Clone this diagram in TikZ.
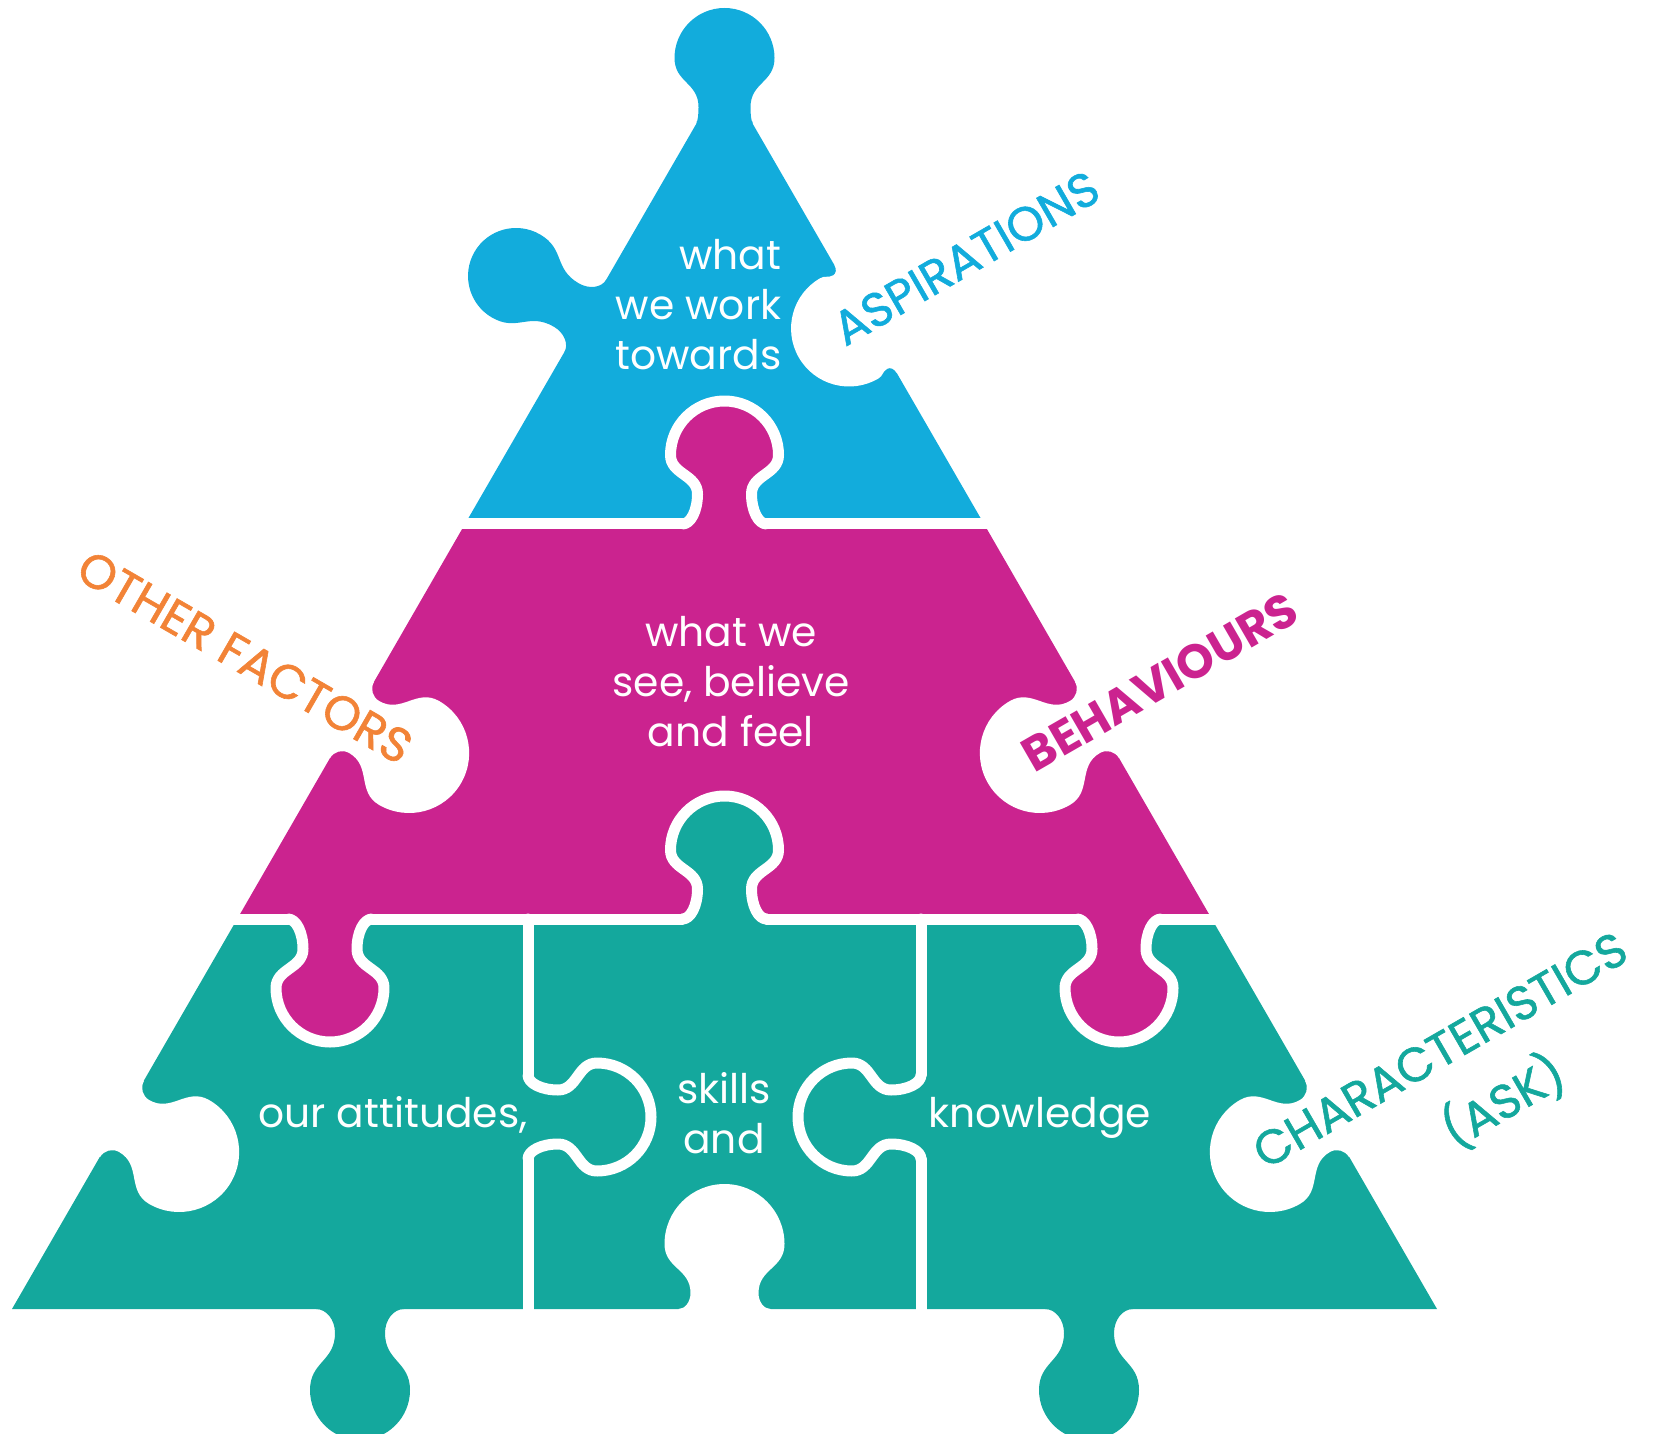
\documentclass[tikz,border=0pt]{standalone}
\usepackage{fontspec}
\setmainfont{Poppins}
\newfontfamily\tagfont{Poppins}[FakeBold=1.2]
\usepackage{xcolor}
\usepackage{tikz}

\definecolor{aspblue}{RGB}{18,172,220}
\definecolor{behmagenta}{RGB}{203,35,143}
\definecolor{askteal}{RGB}{20,168,157}
\definecolor{otherorange}{RGB}{242,131,55}

% jigsaw knob on the x-axis, bulging towards +y
% #1 base half width, #2 neck half width, #3 neck height, #4 head radius, #5 head height
\newcommand{\knob}[5]{%
  (-#1,0) .. controls ({-#1+0.55*(#1-#2)},0) and (-#2,{0.45*#3}) .. (-#2,#3)
  .. controls (-#2,{#3+0.5*(#5-#3)}) and (-#4,{#5-0.5*(#5-#3)}) .. (-#4,#5)
  arc[start angle=180, end angle=0, radius=#4]
  .. controls (#4,{#5-0.5*(#5-#3)}) and (#2,{#3+0.5*(#5-#3)}) .. (#2,#3)
  .. controls (#2,{0.45*#3}) and ({#1-0.55*(#1-#2)},0) .. (#1,0)}

\begin{document}
\begin{tikzpicture}[x=0.1mm, y=0.1mm,
    cut/.style={white, line width=1.1mm, line cap=round, line join=round},
    body/.style={text=white, inner sep=0pt, font=\fontsize{11.6}{14.2}\selectfont},
    tag/.style={inner sep=0pt, font=\tagfont\fontsize{13.6}{15}\selectfont}
]
    \useasboundingbox (0,0) rectangle (1653,-1434);

    % the three bands of the pyramid
    \fill[aspblue] (724.5,-75) -- (984,-524) -- (465,-524) -- cycle;
    \fill[behmagenta] (465,-524) -- (984,-524) -- (1211.8,-919) -- (237.2,-919) -- cycle;
    \fill[askteal] (237.2,-919) -- (1211.8,-919) -- (1437,-1309) -- (12,-1309) -- cycle;

    % tabs sticking out of the pyramid
    \fill[aspblue, shift={(724.5,-122)}] \knob{28}{26}{15}{50}{64} -- (28,-30) -- (-28,-30) -- cycle;
    \fill[aspblue, shift={(585.3,-316)}, rotate=60] \knob{42}{25}{22}{48}{80} -- (42,-12) -- (-42,-12) -- cycle;
    \fill[askteal, shift={(360,-1309)}, rotate=180] \knob{44}{25}{24}{50}{81} -- (44,-12) -- (-44,-12) -- cycle;
    \fill[askteal, shift={(1089,-1309)}, rotate=180] \knob{44}{25}{24}{50}{81} -- (44,-12) -- (-44,-12) -- cycle;

    % knobs between the bands
    \fill[behmagenta, shift={(724.5,-524)}] \knob{42}{27}{30}{54}{69} -- (42,-12) -- (-42,-12) -- cycle;
    \fill[askteal, shift={(724.5,-919)}] \knob{42}{27}{30}{54}{69} -- (42,-12) -- (-42,-12) -- cycle;
    \fill[behmagenta, shift={(330,-919)}, rotate=180] \knob{42}{27}{30}{54}{69} -- (42,-12) -- (-42,-12) -- cycle;
    \fill[behmagenta, shift={(1119,-919)}, rotate=180] \knob{42}{27}{30}{54}{69} -- (42,-12) -- (-42,-12) -- cycle;

    % white cuts
    \draw[cut] (440,-524) -- (682.5,-524);
    \draw[cut] (766.5,-524) -- (1010,-524);
    \draw[cut, shift={(724.5,-524)}] \knob{42}{27}{30}{54}{69};
    \draw[cut] (200,-919) -- (288,-919);
    \draw[cut] (372,-919) -- (682.5,-919);
    \draw[cut] (766.5,-919) -- (1077,-919);
    \draw[cut] (1161,-919) -- (1250,-919);
    \draw[cut, shift={(724.5,-919)}] \knob{42}{27}{30}{54}{69};
    \draw[cut, shift={(330,-919)}, rotate=180] \knob{42}{27}{30}{54}{69};
    \draw[cut, shift={(1119,-919)}, rotate=180] \knob{42}{27}{30}{54}{69};
    \draw[cut] (528,-919) -- (528,-1075);
    \draw[cut] (528,-1159) -- (528,-1330);
    \draw[cut, shift={(528,-1117)}, rotate=-90] \knob{42}{27}{30}{54}{69};
    \draw[cut] (921,-919) -- (921,-1075);
    \draw[cut] (921,-1159) -- (921,-1330);
    \draw[cut, shift={(921,-1117)}, rotate=90] \knob{42}{27}{30}{54}{69};

    % blanks cut into the edges
    \fill[white, shift={(865.5,-319)}, rotate=120] \knob{62}{54}{6}{58}{19} -- (62,-20) -- (-62,-20) -- cycle;
    \fill[white, shift={(1097,-720)}, rotate=120] \knob{44}{30}{14}{60}{66} -- (44,-20) -- (-44,-20) -- cycle;
    \fill[white, shift={(352,-720)}, rotate=-120] \knob{44}{30}{14}{60}{66} -- (44,-20) -- (-44,-20) -- cycle;
    \fill[white, shift={(1327,-1119)}, rotate=120] \knob{44}{30}{14}{60}{66} -- (44,-20) -- (-44,-20) -- cycle;
    \fill[white, shift={(122,-1119)}, rotate=-120] \knob{44}{30}{14}{60}{66} -- (44,-20) -- (-44,-20) -- cycle;
    \fill[white, shift={(724.5,-1309)}] \knob{46}{34}{16}{60}{65} -- (46,-20) -- (-46,-20) -- cycle;

    % texts on the pieces
    \node[body, align=right, anchor=east] (towards) at (782,-305) {what\\we work\\towards};
    \node[body, align=center] (feel) at (731,-682) {what we\\see, believe\\and feel};
    \node[body, anchor=base west] (attitudes) at (258,-1127) {our attitudes,};
    \node[body, align=center] (skills) at (724,-1113) {skills\\and};
    \node[body, anchor=base west] (knowledge) at (928,-1127) {knowledge};

    % labels beside the pyramid
    \node[tag, text=aspblue, rotate=30] (aspirations) at (966,-258) {ASPIRATIONS};
    \node[tag, text=otherorange, rotate=-30] (other) at (245,-657) {OTHER FACTORS};
    \node[tag, text=behmagenta, rotate=30, font=\fontsize{13.6}{15}\selectfont\bfseries] (behaviours) at (1160,-682) {BEHAVIOURS};
    \node[tag, text=askteal, rotate=30] (characteristics) at (1440,-1050) {CHARACTERISTICS};
    \node[tag, text=askteal, rotate=30] (ask) at (1503,-1101) {(ASK)};
\end{tikzpicture}
\end{document}
